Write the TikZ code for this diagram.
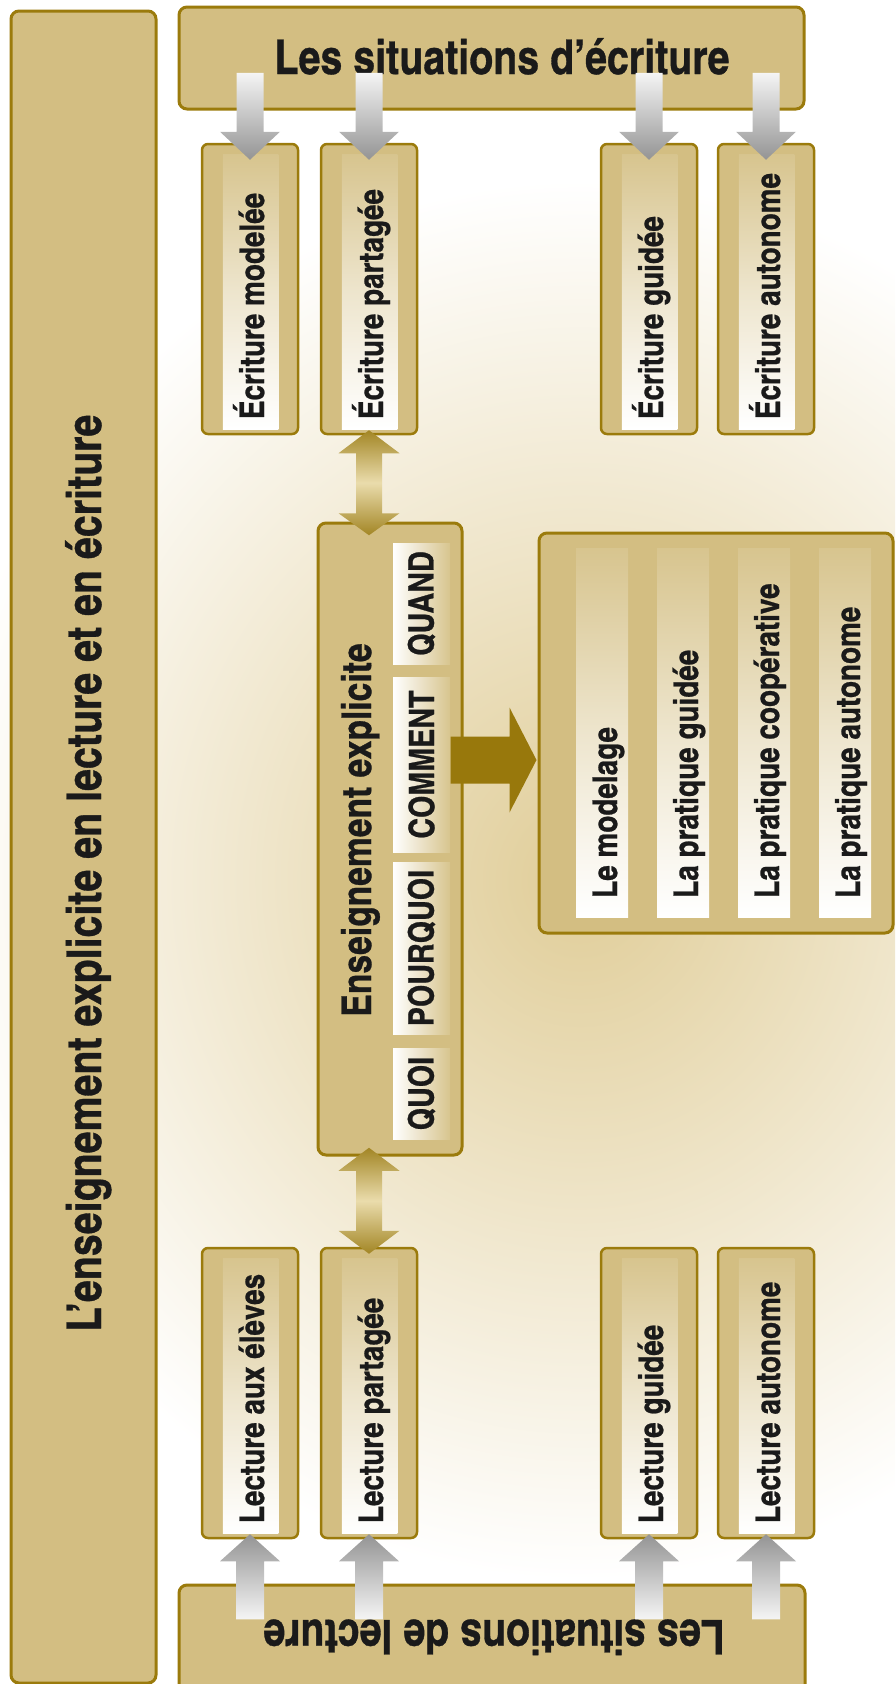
\documentclass[tikz,border=0pt]{standalone}
\usepackage{fontspec}
\newfontfamily\cnfont{texgyreheroscn-bold.otf}[FakeBold=0.7]
\usetikzlibrary{calc}
\definecolor{boxtan}{RGB}{211,190,130}
\definecolor{goldline}{RGB}{155,123,12}
\definecolor{goldarrow}{RGB}{152,120,12}
\definecolor{goldlight}{RGB}{234,220,172}
\definecolor{bgtan}{RGB}{224,205,152}
\definecolor{ink}{RGB}{26,26,26}
\begin{document}
\begin{tikzpicture}[x=1pt,y=-1pt,
	box/.style={draw=goldline,line width=3pt,fill=boxtan,rounded corners=8pt,inner sep=0pt},
	smallbox/.style={box,line width=2.5pt,rounded corners=6pt,minimum width=96pt,minimum height=290pt},
	strip/.style={top color=boxtan!90!white,bottom color=white,middle color=boxtan!40!white},
	headtxt/.style={text=ink,inner sep=0pt,font=\cnfont\fontsize{48}{50}\selectfont},
	lbl/.style={text=ink,inner sep=0pt,rotate=90,anchor=base west,font=\cnfont\fontsize{34}{36}\selectfont},
	caps/.style={text=ink,inner sep=0pt,rotate=90,font=\cnfont\fontsize{35}{37}\selectfont},
	grayup/.style={top color=black!42,bottom color=white!96!black},
	graydown/.style={top color=white!96!black,bottom color=black!42},
	goldboth/.style={top color=goldarrow!90!white,bottom color=goldarrow!90!white,middle color=goldlight}]
	\useasboundingbox (0,0) rectangle (895,1684);
	\clip (0,0) rectangle (895,1684);
	\shade[inner color=bgtan,outer color=white] (580,880) ellipse (650 and 700);
	% cadres
	\node[box,minimum width=145pt,minimum height=1672pt] (frame) at (83.5,847) {};
	\node[box,minimum width=625pt,minimum height=102pt] (ecr) at (491.5,58) {};
	\node[box,minimum width=626pt,minimum height=135pt] (lec) at (492,1652.5) {};
	\node[box,minimum width=144pt,minimum height=632pt] (ens) at (390,839) {};
	\node[box,minimum width=354pt,minimum height=400pt] (modes) at (716,733) {};
	\node[headtxt,anchor=base] (ecr-t) at (502,74) {Les situations d’écriture};
	\node[headtxt,anchor=base,rotate=180] (lec-t) at (494,1620) {Les situations de lecture};
	\node[headtxt,anchor=base,rotate=90] (frame-t) at (101,873) {L’enseignement explicite en lecture et en écriture};
	\node[headtxt,anchor=base,rotate=90,font=\cnfont\fontsize{41}{43}\selectfont] (ens-t) at (371,830) {Enseignement explicite};
	% situations
	\foreach \n/\x/\t in {ecrM/250/Écriture modelée,ecrP/369/Écriture partagée,ecrG/649/Écriture guidée,ecrA/766/Écriture autonome}{
		\node[smallbox] (\n) at (\x,289) {};
		\shade[strip] ($(\n.south west)+(22,-6)$) rectangle ($(\n.north east)+(-21,12)$);
		\node[lbl] (\n-t) at ($(\n.south)+(14,-16)$) {\t};
	}
	\foreach \n/\x/\t in {lecE/250/Lecture aux élèves,lecP/369/Lecture partagée,lecG/649/Lecture guidée,lecA/766/Lecture autonome}{
		\node[smallbox] (\n) at (\x,1393) {};
		\shade[strip] ($(\n.south west)+(22,-6)$) rectangle ($(\n.north east)+(-21,12)$);
		\node[lbl] (\n-t) at ($(\n.south)+(14,-16)$) {\t};
	}
	% quoi, pourquoi...
	\foreach \n/\a/\b/\t in {quand/543/664/QUAND,comment/677/852/COMMENT,pourquoi/862/1034/POURQUOI,quoi/1048/1139/QUOI}{
		\shade[left color=white,right color=boxtan!90!white] (393,\a) rectangle (450,\b);
		\node[caps] (\n) at (421.5,{(\a+\b)/2}) {\t};
	}
	\foreach \x/\t [count=\i] in {602/Le modelage,683/La pratique guidée,764/La pratique coopérative,845/La pratique autonome}{
		\shade[strip] (\x-26,548) rectangle (\x+26,917);
		\node[lbl] (mode\i) at (\x+15,898) {\t};
	}
	% fleches
	\foreach \n in {ecrM,ecrP,ecrG,ecrA}
		\shade[graydown] ($(\n.north)+(0,17)$) -- ++(-30,-28) -- ++(16.5,0) -- ++(0,-59) -- ++(27,0) -- ++(0,59) -- ++(16.5,0) -- cycle;
	\foreach \n in {lecE,lecP,lecG,lecA}
		\shade[grayup] ($(\n.south)+(0,-5)$) -- ++(-30,27) -- ++(16,0) -- ++(0,58) -- ++(28,0) -- ++(0,-58) -- ++(16,0) -- cycle;
	\shade[goldboth] ($(ecrP.south)+(0,-5)$) -- ++(30.5,23) -- ++(-17.5,0) -- ++(0,60) -- ++(17.5,0) -- ++(-30.5,22) -- ++(-30.5,-22) -- ++(17.5,0) -- ++(0,-60) -- ++(-17.5,0) -- cycle;
	\shade[goldboth] ($(lecP.north)+(0,7)$) -- ++(30.5,-23) -- ++(-17.5,0) -- ++(0,-60) -- ++(17.5,0) -- ++(-30.5,-23) -- ++(-30.5,23) -- ++(17.5,0) -- ++(0,60) -- ++(-17.5,0) -- cycle;
	\fill[goldarrow] ($(modes.west)+(-1,27)$) -- ++(-27,-52.5) -- ++(0,29) -- ++(-59,0) -- ++(0,47) -- ++(59,0) -- ++(0,29) -- cycle;
\end{tikzpicture}
\end{document}
